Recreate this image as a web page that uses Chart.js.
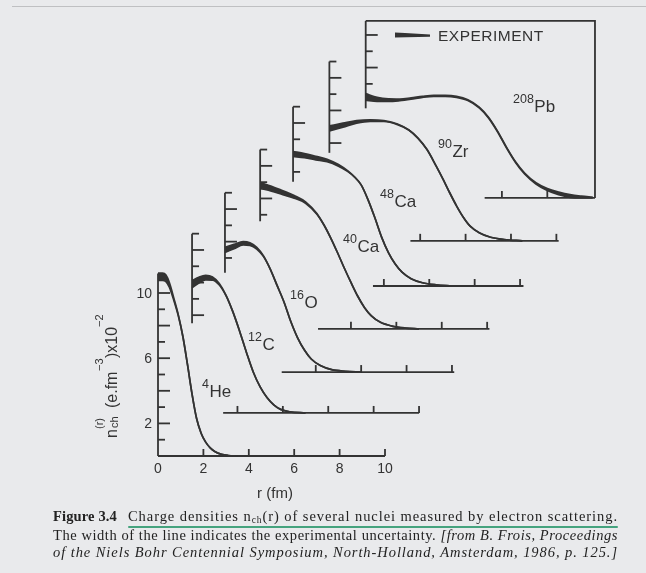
<!DOCTYPE html>
<html>
<head>
<meta charset="utf-8">
<script src="https://cdn.jsdelivr.net/npm/chart.js"></script>
<style>
  html, body { margin: 0; padding: 0; background: #e9eaec; }
  #wrap { position: relative; width: 646px; height: 573px; overflow: hidden; background: #e9eaec; }
  #chart { position: absolute; left: 0; top: 0; }
  .cap { position: absolute; font-family: "Liberation Serif", "Times New Roman", serif; font-size: 14.5px; line-height: 16px; color: #222; white-space: nowrap; }
  .cap sub { font-size: 9.5px; line-height: 0; vertical-align: -2px; }
  #uline { position: absolute; left: 128px; top: 525.5px; width: 490px; height: 2px; background: #45a37e; border-radius: 1px; }
</style>
</head>
<body>
<div id="wrap">
  <canvas id="chart" width="646" height="573"></canvas>
  <div class="cap" style="left:53px; top:508px;"><span class="fit" data-w="64"><b>Figure 3.4</b></span></div>
  <div class="cap" style="left:128px; top:508px;"><span class="fit" data-w="490">Charge densities n<sub>ch</sub>(r) of several nuclei measured by electron scattering.</span></div>
  <div id="uline"></div>
  <div class="cap" style="left:53px; top:527px;"><span class="fit" data-w="565">The width of the line indicates the experimental uncertainty. <i>[from B. Frois, Proceedings</i></span></div>
  <div class="cap" style="left:53px; top:544px;"><span class="fit" data-w="565"><i>of the Niels Bohr Centennial Symposium, North-Holland, Amsterdam, 1986, p. 125.]</i></span></div>
</div>
<script>
// charge densities, r in fm, n_ch in 1e-2 e/fm^3
const heR   = [0, 0.2, 0.35, 0.5, 0.7, 0.9, 1.1, 1.3, 1.5, 1.7, 1.9, 2.1, 2.3, 2.5, 2.8, 3.1, 3.5];
const heRho = [11.0, 11.0, 10.9, 10.5, 9.6, 8.6, 7.3, 5.6, 3.8, 2.3, 1.4, 0.85, 0.5, 0.28, 0.1, 0.03, 0];
const heErr = [0.22, 0.22, 0.2, 0.14, 0.07, 0.03, 0, 0, 0, 0, 0, 0, 0, 0, 0, 0, 0];

const cR   = [0, 0.3, 0.6, 0.9, 1.2, 1.5, 1.8, 2.1, 2.4, 2.7, 3.0, 3.3, 3.6, 3.9, 4.3, 5.0];
const cRho = [7.9, 8.15, 8.3, 8.25, 7.9, 7.2, 6.2, 5.0, 3.7, 2.5, 1.6, 0.95, 0.5, 0.22, 0.07, 0];
const cErr = [0.22, 0.18, 0.14, 0.1, 0.05, 0.02, 0, 0, 0, 0, 0, 0, 0, 0, 0, 0];

const oR   = [0, 0.4, 0.8, 1.1, 1.4, 1.7, 2.0, 2.3, 2.6, 2.9, 3.2, 3.5, 3.8, 4.2, 4.7, 5.3, 6.0];
const oRho = [7.5, 7.7, 7.9, 7.85, 7.6, 7.1, 6.3, 5.3, 4.3, 3.1, 2.1, 1.35, 0.8, 0.4, 0.15, 0.05, 0];
const oErr = [0.16, 0.13, 0.1, 0.08, 0.05, 0.02, 0, 0, 0, 0, 0, 0, 0, 0, 0, 0, 0];

const ca40R   = [0, 0.5, 1.0, 1.5, 2.0, 2.5, 2.8, 3.1, 3.4, 3.7, 4.0, 4.3, 4.6, 4.9, 5.3, 5.8, 6.4, 7.0];
const ca40Rho = [8.8, 8.6, 8.35, 8.1, 7.75, 7.05, 6.4, 5.6, 4.7, 3.75, 2.85, 2.0, 1.3, 0.8, 0.4, 0.17, 0.05, 0];
const ca40Err = [0.18, 0.15, 0.12, 0.08, 0.04, 0.02, 0, 0, 0, 0, 0, 0, 0, 0, 0, 0, 0, 0];

const ca48R   = [0, 0.5, 1.0, 1.5, 2.0, 2.4, 2.7, 3.0, 3.3, 3.6, 3.9, 4.2, 4.5, 4.8, 5.2, 5.7, 6.3, 7.0];
const ca48Rho = [8.1, 8.0, 7.85, 7.7, 7.4, 7.05, 6.7, 6.2, 5.3, 4.2, 3.0, 2.05, 1.35, 0.85, 0.45, 0.2, 0.07, 0];
const ca48Err = [0.15, 0.13, 0.11, 0.08, 0.05, 0.02, 0, 0, 0, 0, 0, 0, 0, 0, 0, 0, 0, 0];

const zrR   = [0, 0.6, 1.2, 1.8, 2.4, 3.0, 3.5, 3.9, 4.3, 4.7, 5.0, 5.3, 5.6, 5.9, 6.2, 6.6, 7.1, 7.7, 8.5];
const zrRho = [6.9, 7.1, 7.3, 7.38, 7.35, 7.15, 6.8, 6.3, 5.6, 4.6, 3.8, 2.95, 2.15, 1.45, 0.9, 0.5, 0.22, 0.08, 0];
const zrErr = [0.15, 0.12, 0.08, 0.05, 0.03, 0.02, 0, 0, 0, 0, 0, 0, 0, 0, 0, 0, 0, 0, 0];

const pbR   = [0, 0.5, 1.0, 1.5, 2.0, 2.5, 3.0, 3.5, 4.0, 4.5, 5.0, 5.4, 5.8, 6.2, 6.6, 7.0, 7.5, 8.0, 8.5, 9.0, 9.5, 10.0];
const pbRho = [6.2, 6.05, 6.0, 6.02, 6.1, 6.2, 6.26, 6.26, 6.2, 6.0, 5.55, 4.95, 4.1, 3.1, 2.2, 1.5, 0.9, 0.52, 0.28, 0.12, 0.05, 0.02];
const pbErr = [0.2, 0.12, 0.08, 0.05, 0.04, 0.03, 0.03, 0.03, 0.03, 0.02, 0.02, 0.02, 0.02, 0.02, 0.02, 0.03, 0.04, 0.06, 0.08, 0.08, 0.06, 0.03];

const massNumbers = ["4", "12", "16", "40", "48", "90", "208"];
const elements    = ["He", "C", "O", "Ca", "Ca", "Zr", "Pb"];

// each panel is shifted right/up from the previous one (fm, density units)
const xShift = [0, 1.5, 2.95, 4.5, 5.95, 7.55, 9.15];
const yShift = [0, 2.64, 5.15, 7.8, 10.43, 13.2, 15.83];
// extent of each panel's own axes
const yAxisLo = [0, 5.5, 6.1, 6.6, 6.4, 5.4, 5.5];
const yAxisHi = [11.2, 11, 11, 11, 11, 11, 10.86];
const xAxisLo = [0, 1.37, 2.5, 2.55, 3.52, 3.57, 5.24];
const xAxisHi = [10, 10, 10.1, 10.1, 10.15, 10.1, 10.1];

const xTickLabels = ["0", "2", "4", "6", "8", "10"];
const yTickLabels = ["2", "6", "10"];

const INK = "#333333";
const PX_FM = 22.7, PX_UNIT = 16.3, ORIGIN_X = 158, ORIGIN_Y = 456;
const SANS = "'Liberation Sans', Arial, sans-serif";

const profiles = [
  [heR, heRho, heErr], [cR, cRho, cErr], [oR, oRho, oErr],
  [ca40R, ca40Rho, ca40Err], [ca48R, ca48Rho, ca48Err],
  [zrR, zrRho, zrErr], [pbR, pbRho, pbErr]
];

const datasets = [];
profiles.forEach(([r, rho, err], i) => {
  const upper = r.map((v, k) => ({ x: v + xShift[i], y: rho[k] + err[k] + yShift[i] }));
  const lower = r.map((v, k) => ({ x: v + xShift[i], y: Math.max(0, rho[k] - err[k]) + yShift[i] }));
  datasets.push({ data: upper, borderColor: INK, backgroundColor: INK, borderWidth: 1.7,
    fill: "+1", pointRadius: 0, cubicInterpolationMode: "monotone" });
  datasets.push({ data: lower, borderColor: INK, borderWidth: 1.7,
    fill: false, pointRadius: 0, cubicInterpolationMode: "monotone" });
});

const panelAxes = {
  id: "panelAxes",
  beforeDatasetsDraw(chart) {
    const ctx = chart.ctx;
    const X = v => chart.scales.x.getPixelForValue(v);
    const Y = v => chart.scales.y.getPixelForValue(v);
    ctx.save();
    // faint page edge of the scan
    ctx.strokeStyle = "#bfc0c2";
    ctx.lineWidth = 1;
    ctx.beginPath(); ctx.moveTo(12, 6.5); ctx.lineTo(646, 6.5); ctx.stroke();

    ctx.strokeStyle = INK;
    ctx.lineWidth = 1.8;
    for (let i = 0; i < xShift.length; i++) {
      const dx = xShift[i], dy = yShift[i];
      const x0 = X(dx);
      ctx.beginPath();
      ctx.moveTo(x0, Y(dy + yAxisLo[i]));
      ctx.lineTo(x0, Y(dy + yAxisHi[i]));
      ctx.stroke();
      for (let t = Math.ceil(yAxisLo[i] + 0.01); t <= Math.floor(yAxisHi[i] + 0.01); t++) {
        if (t === 0) continue;
        const len = t % 2 === 0 ? 12 : 7;
        const yy = Y(dy + t);
        ctx.beginPath(); ctx.moveTo(x0, yy); ctx.lineTo(x0 + len, yy); ctx.stroke();
      }
      const y0 = Y(dy);
      ctx.beginPath();
      ctx.moveTo(X(dx + xAxisLo[i]), y0);
      ctx.lineTo(X(dx + xAxisHi[i]), y0);
      ctx.stroke();
      for (let t = 2; t <= 10; t += 2) {
        if (t <= xAxisLo[i]) continue;
        if (i === xShift.length - 1 && t === 10) continue;
        const xx = X(dx + t);
        ctx.beginPath(); ctx.moveTo(xx, y0); ctx.lineTo(xx, y0 - 7); ctx.stroke();
      }
    }
    // open frame round the 208Pb panel
    const last = xShift.length - 1;
    ctx.beginPath();
    ctx.moveTo(X(xShift[last]), Y(yShift[last] + yAxisHi[last]));
    ctx.lineTo(X(xShift[last] + xAxisHi[last]), Y(yShift[last] + yAxisHi[last]));
    ctx.lineTo(X(xShift[last] + xAxisHi[last]), Y(yShift[last]));
    ctx.stroke();
    ctx.restore();
  },
  afterDraw(chart) {
    const ctx = chart.ctx;
    const X = v => chart.scales.x.getPixelForValue(v);
    const Y = v => chart.scales.y.getPixelForValue(v);
    ctx.save();
    ctx.fillStyle = INK;
    ctx.font = "14px " + SANS;
    ctx.textBaseline = "alphabetic";
    ctx.textAlign = "center";
    xTickLabels.forEach(s => ctx.fillText(s, X(+s), Y(0) + 17));
    ctx.textAlign = "right";
    yTickLabels.forEach(s => ctx.fillText(s, X(0) - 6, Y(+s) + 5));

    ctx.textAlign = "center";
    ctx.font = "15px " + SANS;
    ctx.fillText("r (fm)", 275, 498);

    // nucleus labels: superscript mass number + element
    const labelPos = [[202, 397], [248, 350], [290, 308], [343, 252], [380, 207], [438, 157], [513, 112]];
    ctx.textAlign = "left";
    labelPos.forEach(([lx, ly], i) => {
      ctx.font = "12.5px " + SANS;
      ctx.fillText(massNumbers[i], lx, ly - 9);
      const w = ctx.measureText(massNumbers[i]).width;
      ctx.font = "17px " + SANS;
      ctx.fillText(elements[i], lx + w + 0.5, ly);
    });

    // legend: line whose width shows the uncertainty
    ctx.beginPath();
    ctx.moveTo(395, 32.5); ctx.lineTo(405, 33); ctx.lineTo(430, 34.5);
    ctx.lineTo(430, 36.8); ctx.lineTo(395, 37.5); ctx.closePath();
    ctx.fill();
    ctx.font = "15.5px " + SANS;
    if ("letterSpacing" in ctx) ctx.letterSpacing = "0.5px";
    ctx.fillText("EXPERIMENT", 438, 41);
    if ("letterSpacing" in ctx) ctx.letterSpacing = "0px";

    // rotated y title: n_ch^(r) (e.fm^-3) x10^-2
    ctx.translate(117, 440);
    ctx.rotate(-Math.PI / 2);
    const big = "16px " + SANS;
    const small = "11px " + SANS;
    ctx.font = big;   ctx.fillText("n", 2, 0);
    ctx.font = small; ctx.fillText("ch", 12, 1);
    ctx.fillText("(r)", 11, -14);
    ctx.font = big;   ctx.fillText("(e.fm", 32, 0);
    ctx.font = small; ctx.fillText("\u22123", 69, -14);
    ctx.font = big;   ctx.fillText(")x10", 82, 0);
    ctx.font = small; ctx.fillText("\u22122", 113, -14);
    ctx.restore();
  }
};

new Chart(document.getElementById("chart"), {
  type: "line",
  data: { datasets },
  options: {
    responsive: false,
    animation: false,
    layout: { padding: 0 },
    plugins: { legend: { display: false }, tooltip: { enabled: false } },
    scales: {
      x: { type: "linear", display: false, min: -ORIGIN_X / PX_FM, max: (646 - ORIGIN_X) / PX_FM },
      y: { type: "linear", display: false, min: -(573 - ORIGIN_Y) / PX_UNIT, max: ORIGIN_Y / PX_UNIT }
    }
  },
  plugins: [panelAxes]
});

// stretch each caption line to the width it has in the printed figure
document.querySelectorAll(".fit").forEach(el => {
  const target = +el.dataset.w;
  const width = el.getBoundingClientRect().width;
  const chars = el.textContent.length;
  el.style.letterSpacing = ((target - width) / chars).toFixed(3) + "px";
});
</script>
</body>
</html>
